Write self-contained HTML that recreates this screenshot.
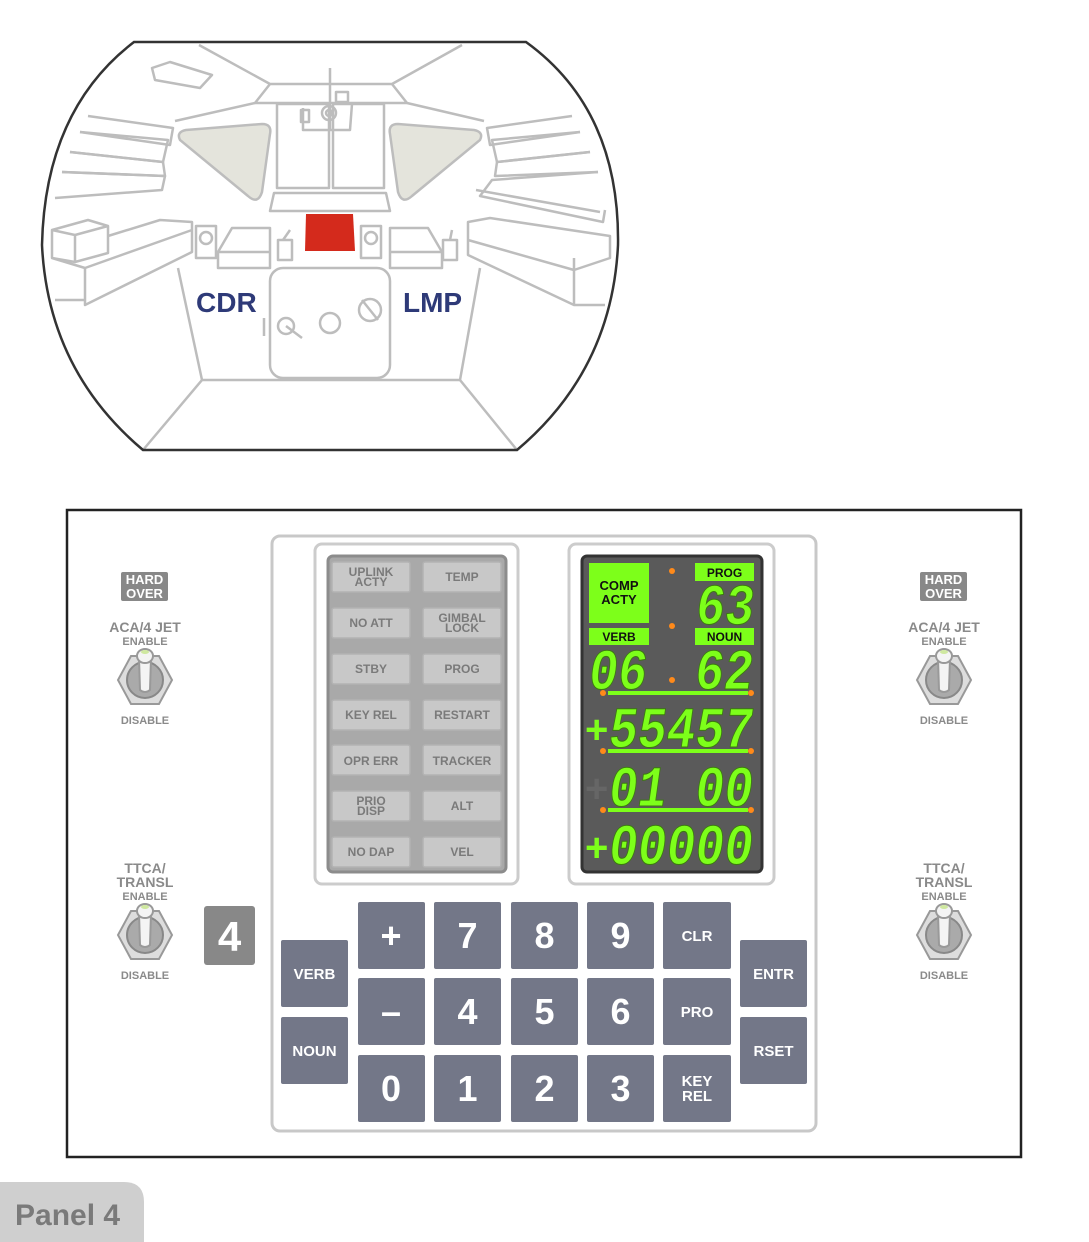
<!DOCTYPE html>
<html><head><meta charset="utf-8"><style>
html,body{margin:0;padding:0;background:#fff;}
svg{display:block;font-family:"Liberation Sans",sans-serif;}
</style></head><body>
<svg width="1089" height="1242" viewBox="0 0 1089 1242" xmlns="http://www.w3.org/2000/svg">
<!-- COCKPIT -->
<g fill="none" stroke="#bdbdbd" stroke-width="2.5" stroke-linejoin="round">
<path d="M199,45 L270,84 L392,84 L462,45"/>
<path d="M270,84 L255,103 L407,103 L392,84"/>
<path d="M255,103 L175,121 M407,103 L484,121"/>
<path d="M152,68 L170,62 L212,75 L200,88 L155,80 Z"/>
<rect x="277" y="104" width="52" height="84"/><rect x="333" y="104" width="51" height="84"/>
<path d="M303,108 L303,130 L350,130 L352,104 M330,68 L330,130"/>
<circle cx="329" cy="113" r="7"/><circle cx="329" cy="113" r="3"/>
<rect x="301" y="110" width="8" height="12"/><rect x="336" y="92" width="12" height="10"/>
<path d="M274,193 L386,193 L390,211 L270,211 Z"/>
<path d="M88,116 L173,128 L170,145 L80,132"/>
<path d="M80,132 L168,140 L163,162 L70,152"/>
<path d="M70,152 L163,162 L165,176 L62,172"/>
<path d="M62,172 L165,176 L162,190 L55,198"/>
<path d="M52,230 L88,220 L108,226 L108,253 L75,262 L52,258 Z M52,230 L75,235 L108,226 M75,235 L75,262"/>
<path d="M52,258 L85,268 L192,230 L192,222 L160,220 L108,236 M85,268 L85,305 L192,252 L192,230"/>
<path d="M55,300 L85,300"/>
<path d="M572,116 L487,128 L490,145 L580,132"/>
<path d="M580,132 L492,140 L497,162 L590,152"/>
<path d="M590,152 L497,162 L495,176 L598,172"/>
<path d="M598,172 L492,180 L480,196 L603,222 L605,210"/>
<path d="M476,190 L600,212"/>
<path d="M468,222 L490,218 L610,236 L610,258 L574,270 L468,240 Z M574,258 L574,305 M468,240 L468,255 L574,305 L605,305"/>
<rect x="196" y="226" width="20" height="32"/><circle cx="206" cy="238" r="6"/>
<path d="M218,252 L232,228 L270,228 L270,268 L218,268 Z M218,252 L270,252"/>
<rect x="278" y="240" width="14" height="20"/><path d="M283,240 L290,230"/>
<rect x="361" y="226" width="20" height="32"/><circle cx="371" cy="238" r="6"/>
<path d="M390,228 L428,228 L442,252 L442,268 L390,268 Z M390,252 L442,252"/>
<rect x="443" y="240" width="14" height="20"/><path d="M450,240 L452,230"/>
<path d="M178,268 L202,380 L460,380 L480,268"/>
<path d="M202,380 L143,450 M460,380 L517,450"/>
<rect x="270" y="268" width="120" height="110" rx="13"/>
<circle cx="286" cy="326" r="8"/><path d="M286,326 L302,338 M264,318 L264,336"/>
<circle cx="330" cy="323" r="10"/><circle cx="370" cy="310" r="11"/><path d="M362,300 L378,320"/>
</g>
<path d="M180,140 Q176,132 186,130 L262,124 Q272,124 270,134 L262,192 Q258,205 248,196 Z" fill="#e4e4dc" stroke="#bdbdbd" stroke-width="2.5"/>
<path d="M480,140 Q484,132 474,130 L398,124 Q388,124 390,134 L398,192 Q402,205 412,196 Z" fill="#e4e4dc" stroke="#bdbdbd" stroke-width="2.5"/>
<path d="M306,214 L353,214 L355,251 L305,251 Z" fill="#d42a1c"/>
<path d="M134,42 L526,42 Q620,110 618,245 Q612,370 517,450 L143,450 Q48,370 42,245 Q45,110 134,42 Z" fill="none" stroke="#333" stroke-width="2.5"/>
<text x="196" y="312" font-size="28" font-weight="bold" fill="#2e3a78">CDR</text>
<text x="403" y="312" font-size="28" font-weight="bold" fill="#2e3a78">LMP</text>

<!-- PANEL -->
<rect x="67" y="510" width="954" height="647" fill="#fff" stroke="#222" stroke-width="2.5"/>
<rect x="272" y="536" width="544" height="595" rx="8" fill="#fff" stroke="#c8c8c8" stroke-width="3"/>

<g font-weight="bold" text-anchor="middle" fill="#8a8a8a">
<rect x="121" y="572" width="47" height="29" rx="2" fill="#888"/>
<text x="144.5" y="584" font-size="13" fill="#fff">HARD</text><text x="144.5" y="598" font-size="13" fill="#fff">OVER</text>
<text x="145" y="632" font-size="14">ACA/4 JET</text><text x="145" y="645" font-size="11">ENABLE</text>
<text x="145" y="724" font-size="11">DISABLE</text>
<text x="145" y="873" font-size="14">TTCA/</text><text x="145" y="887" font-size="14">TRANSL</text><text x="145" y="900" font-size="11">ENABLE</text>
<text x="145" y="979" font-size="11">DISABLE</text>
<rect x="920" y="572" width="47" height="29" rx="2" fill="#888"/>
<text x="943.5" y="584" font-size="13" fill="#fff">HARD</text><text x="943.5" y="598" font-size="13" fill="#fff">OVER</text>
<text x="944" y="632" font-size="14">ACA/4 JET</text><text x="944" y="645" font-size="11">ENABLE</text>
<text x="944" y="724" font-size="11">DISABLE</text>
<text x="944" y="873" font-size="14">TTCA/</text><text x="944" y="887" font-size="14">TRANSL</text><text x="944" y="900" font-size="11">ENABLE</text>
<text x="944" y="979" font-size="11">DISABLE</text>
</g>
<defs>
<g id="tg">
<path d="M-14,-24 L14,-24 L27,0 L14,24 L-14,24 L-27,0 Z" fill="#ddd" stroke="#999" stroke-width="2"/>
<circle r="18" fill="#aaa" stroke="#888" stroke-width="2"/>
<path d="M-6,-22 L6,-22 L5,10 Q0,14 -5,10 Z" fill="#f4f4f4" stroke="#999" stroke-width="2"/>
<ellipse cx="0" cy="-24" rx="8" ry="7" fill="#f4f4f4" stroke="#999" stroke-width="2"/>
<ellipse cx="0" cy="-28" rx="4" ry="2" fill="#cfe8a0"/>
</g>
</defs>
<use href="#tg" x="145" y="680"/><use href="#tg" x="944" y="680"/>
<use href="#tg" x="145" y="935"/><use href="#tg" x="944" y="935"/>

<rect x="204" y="906" width="51" height="59" rx="3" fill="#888"/>
<text x="229.5" y="951" font-size="42" font-weight="bold" fill="#fff" text-anchor="middle">4</text>

<rect x="315" y="544" width="203" height="340" rx="7" fill="#fff" stroke="#ccc" stroke-width="3"/>
<rect x="328" y="556" width="178" height="316" rx="5" fill="#a9a9a9" stroke="#8c8c8c" stroke-width="3"/>
<g fill="#c8c8c8" stroke="#b2b2b2" stroke-width="1.5">
<rect x="332" y="562" width="78" height="30" rx="2"/><rect x="423" y="562" width="78" height="30" rx="2"/>
<rect x="332" y="608" width="78" height="30" rx="2"/><rect x="423" y="608" width="78" height="30" rx="2"/>
<rect x="332" y="654" width="78" height="30" rx="2"/><rect x="423" y="654" width="78" height="30" rx="2"/>
<rect x="332" y="700" width="78" height="30" rx="2"/><rect x="423" y="700" width="78" height="30" rx="2"/>
<rect x="332" y="745" width="78" height="30" rx="2"/><rect x="423" y="745" width="78" height="30" rx="2"/>
<rect x="332" y="791" width="78" height="30" rx="2"/><rect x="423" y="791" width="78" height="30" rx="2"/>
<rect x="332" y="837" width="78" height="30" rx="2"/><rect x="423" y="837" width="78" height="30" rx="2"/>
</g>
<g fill="#7a7a7a" font-weight="bold" font-size="12" text-anchor="middle">
<text x="371" y="576">UPLINK</text><text x="371" y="586">ACTY</text><text x="462" y="581">TEMP</text>
<text x="371" y="627">NO ATT</text><text x="462" y="622">GIMBAL</text><text x="462" y="632">LOCK</text>
<text x="371" y="673">STBY</text><text x="462" y="673">PROG</text>
<text x="371" y="719">KEY REL</text><text x="462" y="719">RESTART</text>
<text x="371" y="765">OPR ERR</text><text x="462" y="765">TRACKER</text>
<text x="371" y="805">PRIO</text><text x="371" y="815">DISP</text><text x="462" y="810">ALT</text>
<text x="371" y="856">NO DAP</text><text x="462" y="856">VEL</text>
</g>

<rect x="569" y="544" width="205" height="340" rx="7" fill="#fff" stroke="#ccc" stroke-width="3"/>
<rect x="582" y="556" width="180" height="316" rx="5" fill="#5a5a5a" stroke="#333" stroke-width="3"/>
<g fill="#7dff1a">
<rect x="589" y="563" width="60" height="60"/>
<rect x="695" y="563" width="59" height="18"/>
<rect x="589" y="628" width="60" height="17"/>
<rect x="695" y="628" width="59" height="17"/>
<rect x="608" y="691" width="140" height="4"/>
<rect x="608" y="749" width="140" height="4"/>
<rect x="608" y="808" width="140" height="4"/>
</g>
<g fill="#ff8a1a">
<circle cx="672" cy="571" r="3"/><circle cx="672" cy="626" r="3"/><circle cx="672" cy="680" r="3"/>
<circle cx="603" cy="693" r="3"/><circle cx="751" cy="693" r="3"/>
<circle cx="603" cy="751" r="3"/><circle cx="751" cy="751" r="3"/>
<circle cx="603" cy="810" r="3"/><circle cx="751" cy="810" r="3"/>
</g>
<g font-weight="bold" fill="#111" text-anchor="middle">
<text x="619" y="590" font-size="13">COMP</text><text x="619" y="604" font-size="13">ACTY</text>
<text x="724.5" y="577" font-size="12">PROG</text>
<text x="619" y="641" font-size="12">VERB</text><text x="724.5" y="641" font-size="12">NOUN</text>
</g>
<g font-family="Liberation Mono, monospace" font-weight="bold" font-size="58" fill="#7dff1a" stroke="#3c7a10" stroke-width="1">
<text transform="translate(694,624) skewX(-8)" x="0" y="0" textLength="58" lengthAdjust="spacingAndGlyphs">63</text>
<text transform="translate(587,689) skewX(-8)" x="0" y="0" textLength="58" lengthAdjust="spacingAndGlyphs">06</text>
<text transform="translate(693,689) skewX(-8)" x="0" y="0" textLength="58" lengthAdjust="spacingAndGlyphs">62</text>
<text transform="translate(607,747) skewX(-8)" x="0" y="0" textLength="144" lengthAdjust="spacingAndGlyphs">55457</text>
<text transform="translate(607,806) skewX(-8)" x="0" y="0" textLength="144" lengthAdjust="spacingAndGlyphs">01 00</text>
<text transform="translate(607,864) skewX(-8)" x="0" y="0" textLength="144" lengthAdjust="spacingAndGlyphs">00000</text>
</g>
<g fill="#7dff1a" font-weight="bold" font-size="40">
<text x="585" y="743">+</text><text x="585" y="861">+</text>
</g>
<text x="585" y="802" font-weight="bold" font-size="40" fill="#666">+</text>

<g fill="#737788">
<rect x="281" y="940" width="67" height="67" rx="2"/><rect x="281" y="1017" width="67" height="67" rx="2"/>
<rect x="358" y="902" width="67" height="67" rx="2"/><rect x="434" y="902" width="67" height="67" rx="2"/><rect x="511" y="902" width="67" height="67" rx="2"/><rect x="587" y="902" width="67" height="67" rx="2"/><rect x="663" y="902" width="68" height="67" rx="2"/>
<rect x="358" y="978" width="67" height="67" rx="2"/><rect x="434" y="978" width="67" height="67" rx="2"/><rect x="511" y="978" width="67" height="67" rx="2"/><rect x="587" y="978" width="67" height="67" rx="2"/><rect x="663" y="978" width="68" height="67" rx="2"/>
<rect x="358" y="1055" width="67" height="67" rx="2"/><rect x="434" y="1055" width="67" height="67" rx="2"/><rect x="511" y="1055" width="67" height="67" rx="2"/><rect x="587" y="1055" width="67" height="67" rx="2"/><rect x="663" y="1055" width="68" height="67" rx="2"/>
<rect x="740" y="940" width="67" height="67" rx="2"/><rect x="740" y="1017" width="67" height="67" rx="2"/>
</g>
<g fill="#fff" font-weight="bold" text-anchor="middle">
<g font-size="15"><text x="314.5" y="979">VERB</text><text x="314.5" y="1056">NOUN</text>
<text x="697" y="941">CLR</text><text x="697" y="1017">PRO</text><text x="697" y="1086">KEY</text><text x="697" y="1101">REL</text>
<text x="773.5" y="979">ENTR</text><text x="773.5" y="1056">RSET</text></g>
<g font-size="36"><text x="391" y="948">+</text><text x="467.5" y="948">7</text><text x="544.5" y="948">8</text><text x="620.5" y="948">9</text>
<text x="391" y="1024">–</text><text x="467.5" y="1024">4</text><text x="544.5" y="1024">5</text><text x="620.5" y="1024">6</text>
<text x="391" y="1101">0</text><text x="467.5" y="1101">1</text><text x="544.5" y="1101">2</text><text x="620.5" y="1101">3</text></g>
</g>

<path d="M0,1182 L124,1182 Q144,1182 144,1202 L144,1242 L0,1242 Z" fill="#cfcfcf"/>
<text x="15" y="1225" font-size="30" font-weight="bold" fill="#7a7a7a">Panel 4</text>
</svg>
</body></html>
